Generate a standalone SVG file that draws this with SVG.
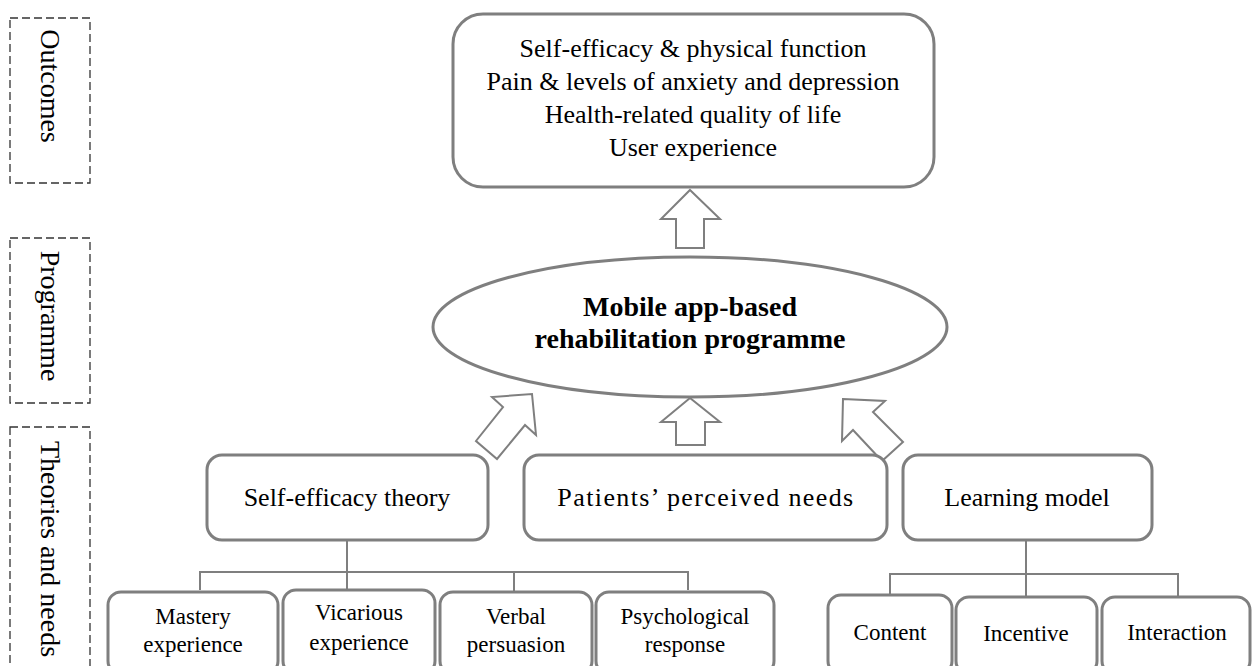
<svg xmlns="http://www.w3.org/2000/svg" width="1252" height="666" viewBox="0 0 1252 666">
  <style>
    text { font-family: "Liberation Serif", "Times New Roman", serif; fill: #000; }
    .lvl { fill: none; stroke: #333; stroke-width: 1.3; stroke-dasharray: 8 4; }
    .box { fill: #fff; stroke: #7f7f7f; stroke-width: 3; }
    .arrow { fill: #fff; stroke: #7f7f7f; stroke-width: 2; stroke-linejoin: miter; }
    .link { fill: none; stroke: #7f7f7f; stroke-width: 2; }
    .t28 { font-size: 28px; text-anchor: middle; }
    .t26 { font-size: 26px; text-anchor: middle; }
    .t23 { font-size: 23px; text-anchor: middle; }
    .bold { font-size: 28px; font-weight: bold; text-anchor: middle; }
  </style>

  <!-- Level labels on the left -->
  <g id="level-outcomes">
    <rect class="lvl" x="10" y="18" width="80" height="165"/>
    <text class="t28" transform="translate(41 86) rotate(90)">Outcomes</text>
  </g>
  <g id="level-programme">
    <rect class="lvl" x="10" y="238" width="80" height="165"/>
    <text class="t28" transform="translate(41 316) rotate(90)">Programme</text>
  </g>
  <g id="level-theories">
    <rect class="lvl" x="10" y="427" width="80" height="260"/>
    <text class="t28" transform="translate(41 549) rotate(90)">Theories and needs</text>
  </g>

  <!-- Connectors: block arrows and tree lines -->
  <g id="connectors">
    <polygon class="arrow" points="690,190 720,219 704,219 704,248 676,248 676,219 661,219"/>
    <polygon class="arrow" points="690,398 720,422 705,422 705,445 676,445 676,422 661,422"/>
    <polygon class="arrow" points="532,394 536,435 525,425 497,459 476,441 503,407 492,397"/>
    <polygon class="arrow" points="843,399 885,401 873,412 903,442 882,461 853,430 842,441"/>
    <path class="link" d="M347,540 V590 M200,590 V572 H688 V590 M514,572 V592"/>
    <path class="link" d="M1026,540 V597 M890,595 V574 H1178 V597"/>
  </g>

  <g id="outcomes">
    <rect class="box" x="453" y="14" width="481" height="173" rx="30"/>
    <text class="t26" x="693" y="57">Self-efficacy &amp; physical function</text>
    <text class="t26" x="693" y="90">Pain &amp; levels of anxiety and depression</text>
    <text class="t26" x="693" y="123">Health-related quality of life</text>
    <text class="t26" x="693" y="156">User experience</text>
  </g>

  <g id="programme">
    <ellipse class="box" cx="690" cy="327" rx="257" ry="70"/>
    <text class="bold" x="690" y="316">Mobile app-based</text>
    <text class="bold" x="690" y="348">rehabilitation programme</text>
  </g>

  <g id="self-efficacy-theory">
    <rect class="box" x="207" y="455" width="281" height="85" rx="15"/>
    <text class="t26" x="347" y="506">Self-efficacy theory</text>
  </g>
  <g id="perceived-needs">
    <rect class="box" x="524" y="455" width="363" height="85" rx="15"/>
    <text class="t26" x="706" y="506" letter-spacing="1.4">Patients’ perceived needs</text>
  </g>
  <g id="learning-model">
    <rect class="box" x="903" y="455" width="249" height="85" rx="15"/>
    <text class="t26" x="1027" y="506">Learning model</text>
  </g>

  <g id="mastery">
    <rect class="box" x="108" y="592" width="170" height="82" rx="13"/>
    <text class="t23" x="193" y="624">Mastery</text>
    <text class="t23" x="193" y="652">experience</text>
  </g>
  <g id="vicarious">
    <rect class="box" x="283" y="590" width="152" height="84" rx="13"/>
    <text class="t23" x="359" y="620">Vicarious</text>
    <text class="t23" x="359" y="650">experience</text>
  </g>
  <g id="verbal">
    <rect class="box" x="440" y="592" width="152" height="82" rx="13"/>
    <text class="t23" x="516" y="624">Verbal</text>
    <text class="t23" x="516" y="652">persuasion</text>
  </g>
  <g id="psychological">
    <rect class="box" x="596" y="592" width="178" height="82" rx="13"/>
    <text class="t23" x="685" y="624">Psychological</text>
    <text class="t23" x="685" y="652">response</text>
  </g>
  <g id="content">
    <rect class="box" x="828" y="595" width="124" height="79" rx="13"/>
    <text class="t23" x="890" y="640">Content</text>
  </g>
  <g id="incentive">
    <rect class="box" x="956" y="597" width="141" height="77" rx="13"/>
    <text class="t23" x="1026" y="641">Incentive</text>
  </g>
  <g id="interaction">
    <rect class="box" x="1102" y="597" width="148" height="77" rx="13"/>
    <text class="t23" x="1177" y="640">Interaction</text>
  </g>
</svg>
